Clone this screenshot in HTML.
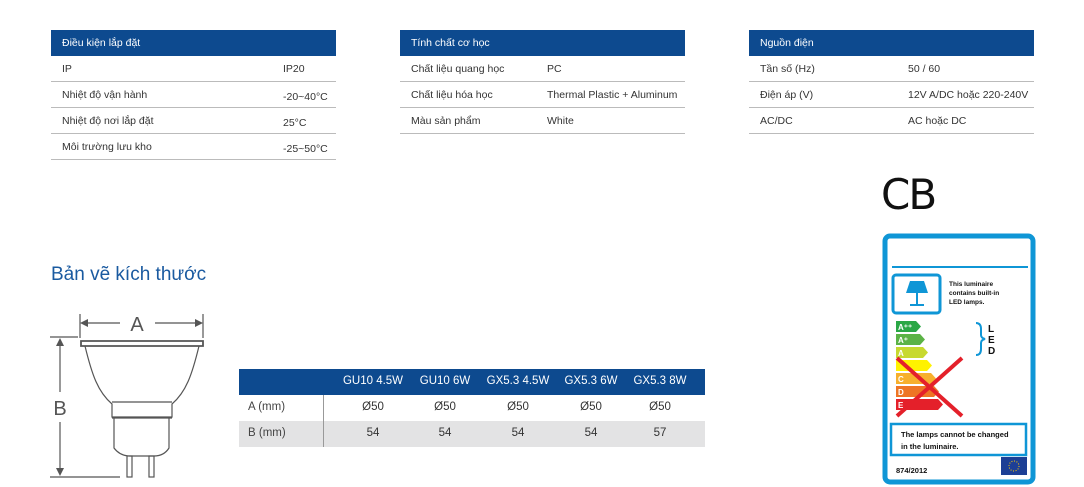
<!DOCTYPE html>
<html><head><meta charset="utf-8"><style>
body{margin:0;width:1084px;height:487px;background:#fff;position:relative;overflow:hidden;font-family:"Liberation Sans",sans-serif;color:#333}
.a{position:absolute}
.hd{background:#0d4a8f;color:#fff;font-size:10.5px;height:26px;line-height:26px;padding-left:11px;box-sizing:border-box}
.row{font-size:10.5px;height:26px;line-height:26px;border-bottom:1px solid #bbb;box-sizing:border-box}
.row span{position:absolute}
.t2{font-size:11.5px;text-align:center}
</style></head><body>

<div class="a" style="left:51px;top:30px;width:285px">
<div class="hd">Điều kiện lắp đặt</div>
<div class="row" style="position:relative"><span style="left:11px">IP</span><span style="left:232px">IP20</span></div>
<div class="row" style="position:relative"><span style="left:11px">Nhiệt độ vận hành</span><span style="left:232px;top:2px">-20~40°C</span></div>
<div class="row" style="position:relative"><span style="left:11px">Nhiệt độ nơi lắp đặt</span><span style="left:232px;top:2px">25°C</span></div>
<div class="row" style="position:relative"><span style="left:11px">Môi trường lưu kho</span><span style="left:232px;top:2px">-25~50°C</span></div>
</div>

<div class="a" style="left:400px;top:30px;width:285px">
<div class="hd">Tính chất cơ học</div>
<div class="row" style="position:relative"><span style="left:11px">Chất liệu quang học</span><span style="left:147px">PC</span></div>
<div class="row" style="position:relative"><span style="left:11px">Chất liệu hóa học</span><span style="left:147px">Thermal Plastic + Aluminum</span></div>
<div class="row" style="position:relative"><span style="left:11px">Màu sản phẩm</span><span style="left:147px">White</span></div>
</div>

<div class="a" style="left:749px;top:30px;width:285px">
<div class="hd">Nguồn điện</div>
<div class="row" style="position:relative"><span style="left:11px">Tần số (Hz)</span><span style="left:159px">50 / 60</span></div>
<div class="row" style="position:relative"><span style="left:11px">Điện áp (V)</span><span style="left:159px">12V A/DC hoặc 220-240V</span></div>
<div class="row" style="position:relative"><span style="left:11px">AC/DC</span><span style="left:159px">AC hoặc DC</span></div>
</div>

<div class="a" style="left:51px;top:264px;font-size:19px;color:#1a5aa0">Bản vẽ kích thước</div>

<svg class="a" style="left:40px;top:300px" width="180" height="187" viewBox="0 0 180 187">
<g stroke="#555" fill="none" stroke-width="1.2">
<line x1="40" y1="14" x2="40" y2="38"/><line x1="163" y1="14" x2="163" y2="38"/>
<line x1="42" y1="23" x2="80" y2="23"/><line x1="115" y1="23" x2="161" y2="23"/>
<line x1="10" y1="37" x2="38" y2="37"/><line x1="10" y1="177" x2="80" y2="177"/>
<line x1="20" y1="40" x2="20" y2="92"/><line x1="20" y1="122" x2="20" y2="174"/>
<path d="M41 41 L163 41 L163 46 L41 46 Z" stroke-width="1.8"/>
<path d="M45 46 C52 75 58 92 72 104 L72 117 L132 117 L132 104 C146 92 152 75 159 46"/>
<line x1="72" y1="102" x2="132" y2="102"/><line x1="72" y1="118" x2="132" y2="118"/>
<path d="M74 118 L74 148 Q80 156 90 156 L114 156 Q124 156 129 148 L129 118"/>
<rect x="87" y="156" width="5" height="21"/><rect x="109" y="156" width="5" height="21"/>
</g>
<g fill="#555"><path d="M40 23 l8 -4 v8z"/><path d="M163 23 l-8 -4 v8z"/><path d="M20 38 l-4 8 h8z"/><path d="M20 176 l-4 -8 h8z"/></g>
<text x="97" y="31" font-size="20" fill="#555" text-anchor="middle" font-family="Liberation Sans">A</text>
<text x="20" y="115" font-size="20" fill="#555" text-anchor="middle" font-family="Liberation Sans">B</text>
</svg>

<div class="a" style="left:239px;top:369px;width:466px;height:26px;background:#0d4a8f"></div>
<div class="a" style="left:239px;top:421px;width:466px;height:26px;background:#e3e3e4"></div>
<div class="a" style="left:323px;top:395px;width:1px;height:52px;background:#999"></div>
<div class="a t2" style="left:248px;top:401px;color:#444">A (mm)</div>
<div class="a t2" style="left:248px;top:427px;color:#444">B (mm)</div>
<div class="a t2" style="left:333px;top:375px;width:80px;color:#fff">GU10 4.5W</div>
<div class="a t2" style="left:405px;top:375px;width:80px;color:#fff">GU10 6W</div>
<div class="a t2" style="left:478px;top:375px;width:80px;color:#fff">GX5.3 4.5W</div>
<div class="a t2" style="left:551px;top:375px;width:80px;color:#fff">GX5.3 6W</div>
<div class="a t2" style="left:620px;top:375px;width:80px;color:#fff">GX5.3 8W</div>
<div class="a t2" style="left:333px;top:401px;width:80px">Ø50</div>
<div class="a t2" style="left:405px;top:401px;width:80px">Ø50</div>
<div class="a t2" style="left:478px;top:401px;width:80px">Ø50</div>
<div class="a t2" style="left:551px;top:401px;width:80px">Ø50</div>
<div class="a t2" style="left:620px;top:401px;width:80px">Ø50</div>
<div class="a t2" style="left:333px;top:427px;width:80px">54</div>
<div class="a t2" style="left:405px;top:427px;width:80px">54</div>
<div class="a t2" style="left:478px;top:427px;width:80px">54</div>
<div class="a t2" style="left:551px;top:427px;width:80px">54</div>
<div class="a t2" style="left:620px;top:427px;width:80px">57</div>

<div class="a" style="left:881px;top:170px;font-size:42px;color:#111;font-family:'DejaVu Sans',sans-serif;letter-spacing:-2px">CB</div>

<svg class="a" style="left:882px;top:233px" width="154" height="252" viewBox="0 0 154 252">
<rect x="3" y="3" width="148" height="246" rx="5" fill="#fff" stroke="#0f96d6" stroke-width="5"/>
<line x1="10" y1="34" x2="146" y2="34" stroke="#0f96d6" stroke-width="2"/>
<rect x="11" y="42" width="47" height="38" rx="3" fill="none" stroke="#0f96d6" stroke-width="3"/>
<path d="M28 48 h14 l4 12 h-22z" fill="#0f96d6"/><rect x="34" y="60" width="2" height="12" fill="#0f96d6"/><rect x="28" y="71" width="14" height="2" fill="#0f96d6"/>
<g font-family="Liberation Sans" font-weight="bold" font-size="6.5" fill="#111"><text x="67" y="53">This luminaire</text><text x="67" y="62">contains built-in</text><text x="67" y="71">LED lamps.</text></g>
<g font-family="Liberation Sans" font-weight="bold" font-size="8" fill="#fff">
<path d="M14 88h20l5 5.5-5 5.5h-20z" fill="#2aa745"/><text x="16" y="97">A⁺⁺</text>
<path d="M14 101h24l5 5.5-5 5.5h-24z" fill="#5bb346"/><text x="16" y="110">A⁺</text>
<path d="M14 114h27l5 5.5-5 5.5h-27z" fill="#c7d92f"/><text x="16" y="123">A</text>
<path d="M14 127h31l5 5.5-5 5.5h-31z" fill="#fff200"/>
<path d="M14 140h35l5 5.5-5 5.5h-35z" fill="#f7b02c"/><text x="16" y="149">C</text>
<path d="M14 153h38l5 5.5-5 5.5h-38z" fill="#ee7524"/><text x="16" y="162">D</text>
<path d="M14 166h42l5 5.5-5 5.5h-42z" fill="#e4202a"/><text x="16" y="175">E</text>
</g>
<g stroke="#e4202a" stroke-width="4"><line x1="15" y1="125" x2="80" y2="183"/><line x1="80" y1="125" x2="15" y2="183"/></g>
<path d="M94 90 q5 0 5 6 v6 q0 3 4 4 q-4 1 -4 4 v6 q0 6 -5 6" fill="none" stroke="#0f96d6" stroke-width="2"/>
<g font-family="Liberation Sans" font-weight="900" font-size="10" fill="#111"><text x="106" y="99">L</text><text x="106" y="110">E</text><text x="106" y="121">D</text></g>
<rect x="9" y="191" width="135" height="31" fill="none" stroke="#0f96d6" stroke-width="2.5"/>
<g font-family="Liberation Sans" font-weight="bold" font-size="7.5" fill="#111"><text x="19" y="204">The lamps cannot be changed</text><text x="19" y="216">in the luminaire.</text><text x="14" y="240">874/2012</text></g>
<rect x="119" y="224" width="26" height="18" fill="#1d3f95"/><circle cx="132" cy="233" r="5" fill="none" stroke="#fc0" stroke-width="1" stroke-dasharray="1 1.6"/>
</svg>
</body></html>
